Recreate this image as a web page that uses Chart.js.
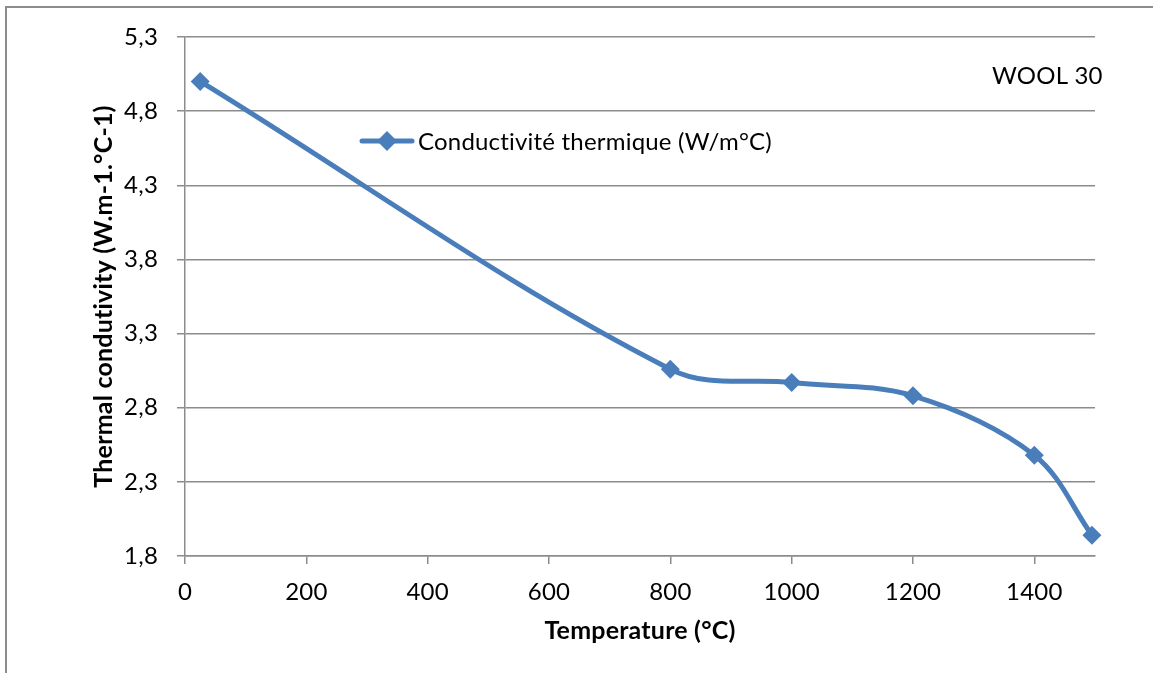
<!DOCTYPE html>
<html>
<head>
<meta charset="utf-8">
<script src="https://cdn.jsdelivr.net/npm/chart.js@4"></script>
<style>
  html, body { margin: 0; padding: 0; background: #fff; }
  #wrap { position: relative; width: 1153px; height: 673px; }
  #frame { position: absolute; left: 5px; top: 6px; right: 0; bottom: 0; border-left: 2px solid #8c8c8c; border-top: 2px solid #8c8c8c; }
  canvas { position: absolute; left: 0; top: 0; }
</style>
</head>
<body>
<div id="wrap">
  <div id="frame"></div>
  <canvas id="thermalChart" width="1153" height="673"></canvas>
</div>
<script>
const temperatures = [25, 800, 1000, 1200, 1400, 1495]
const conductivity = [5.0, 3.06, 2.97, 2.88, 2.48, 1.94]
const xTicks = [0, 200, 400, 600, 800, 1000, 1200, 1400]
const yTicks = [1.8, 2.3, 2.8, 3.3, 3.8, 4.3, 4.8, 5.3]
const seriesLabel = "Conductivité thermique (W/m°C)"
const noteText = "WOOL 30"

const blue = "#4a7ebb"
const grey = "#8c8c8c"
const font = "Lato, 'Open Sans', sans-serif"

// legend inside plot + "WOOL 30" note
const overlay = {
  id: "overlay",
  beforeDraw(chart) {
    // tiny spacing stops the "ti" ligature
    chart.ctx.letterSpacing = "0.2px"
  },
  afterDraw(chart) {
    const ctx = chart.ctx
    ctx.save()
    ctx.strokeStyle = blue
    ctx.lineWidth = 5
    ctx.lineCap = "round"
    ctx.beginPath()
    ctx.moveTo(362, 141)
    ctx.lineTo(412, 141)
    ctx.stroke()
    ctx.fillStyle = blue
    ctx.beginPath()
    ctx.moveTo(387, 131)
    ctx.lineTo(397, 141)
    ctx.lineTo(387, 151)
    ctx.lineTo(377, 141)
    ctx.closePath()
    ctx.fill()
    ctx.fillStyle = "#000"
    ctx.font = "24px " + font
    ctx.textBaseline = "middle"
    ctx.fillText(seriesLabel, 418, 142)
    ctx.fillText(noteText, 992, 76)
    ctx.restore()
  }
}

new Chart(document.getElementById("thermalChart"), {
  type: "line",
  data: {
    datasets: [{
      label: seriesLabel,
      data: temperatures.map((t, i) => ({ x: t, y: conductivity[i] })),
      borderColor: blue,
      backgroundColor: blue,
      borderWidth: 5,
      tension: 0.35,
      clip: false,
      pointStyle: "rectRot",
      pointRadius: 9.5,
      pointBorderWidth: 0
    }]
  },
  options: {
    responsive: false,
    animation: false,
    layout: { padding: { left: 85, top: 37, right: 58, bottom: 23 } },
    scales: {
      x: {
        type: "linear",
        min: 0,
        max: 1500,
        afterBuildTicks: axis => { axis.ticks = xTicks.map(v => ({ value: v })) },
        afterFit: axis => { axis.height = 94 },
        grid: { drawOnChartArea: false, color: grey, tickLength: 8, lineWidth: 1.5 },
        border: { color: grey, width: 1.5 },
        ticks: {
          color: "#000",
          font: { family: font, size: 24 },
          padding: 14,
          maxRotation: 0,
          callback: v => String(v)
        },
        title: { display: true, text: "Temperature (°C)", color: "#000", font: { family: font, size: 25, weight: "bold" }, padding: { top: 4, bottom: 4 } }
      },
      y: {
        min: 1.8,
        max: 5.3,
        afterBuildTicks: axis => { axis.ticks = yTicks.map(v => ({ value: v })) },
        afterFit: axis => { axis.width = 100 },
        grid: { color: grey, tickLength: 8, lineWidth: 1.5 },
        border: { color: grey, width: 1.5 },
        ticks: {
          color: "#000",
          font: { family: font, size: 24 },
          padding: 19,
          callback: v => v.toFixed(1).replace(".", ",")
        },
        title: { display: true, text: "Thermal condutivity (W.m-1.°C-1)", color: "#000", font: { family: font, size: 25, weight: "bold" }, padding: { top: 4, bottom: 4 } }
      }
    },
    plugins: {
      legend: { display: false },
      tooltip: { enabled: false }
    }
  },
  plugins: [overlay]
})
</script>
</body>
</html>
